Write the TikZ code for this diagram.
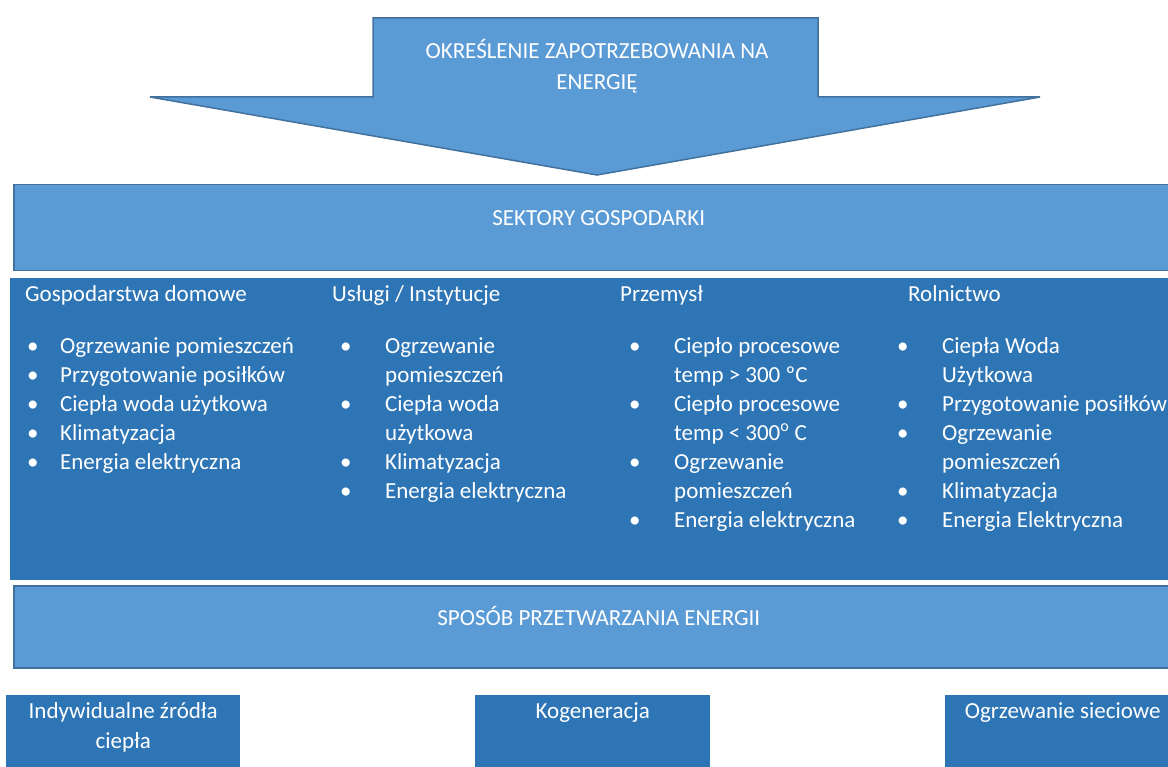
\documentclass[tikz,border=0pt]{standalone}
\usepackage{fontspec}
\setmainfont{Carlito}
\usetikzlibrary{positioning}

\definecolor{lightblue}{HTML}{5B9BD5}
\definecolor{darkblue}{HTML}{2E75B6}
\definecolor{edgeblue}{HTML}{41719C}

\begin{document}
\begin{tikzpicture}[x=1pt,y=-1pt,font=\fontsize{23}{29}\selectfont,text=white]
  \tikzstyle{lightbox}=[draw=edgeblue,line width=1.5pt,fill=lightblue,anchor=north west,inner sep=0pt]
  \tikzstyle{darkbox}=[fill=darkblue,anchor=north west,inner sep=0pt]
  \tikzstyle{title}=[font=\fontsize{23}{31}\selectfont,align=center,inner sep=0pt,text=white]
  \tikzstyle{head}=[anchor=base west,inner sep=0pt]
  \tikzstyle{items}=[anchor=north west,inner sep=0pt]

  \clip (0,0) rectangle (1168,767);

  % arrow on top
  \draw[fill=lightblue,draw=edgeblue,line width=1.5pt] (373,18) -- (818,18) -- (818,97) -- (1040,97)
    -- (597,175) -- (150,97) -- (373,97) -- cycle;
  \node[title] (demand) at (597,66) {OKREŚLENIE ZAPOTRZEBOWANIA NA\\ENERGIĘ};

  % sectors
  \node[lightbox,minimum width=1170,minimum height=86,
        label={[title,yshift=10]center:SEKTORY GOSPODARKI}] (sectors) at (13,184) {};
  \node[darkbox,minimum width=1170,minimum height=302] (sectorlist) at (10,278) {};

  \node[head] (homes)    at (25,302)  {Gospodarstwa domowe};
  \node[head] (services) at (332,302) {Usługi / Instytucje};
  \node[head] (industry) at (620,302) {Przemysł};
  \node[head] (farming)  at (908,302) {Rolnictwo};

  \node[items] (homeslist) at (27,333) {\begin{tabular}{@{}p{33pt}@{}l@{}}
    \textbullet & Ogrzewanie pomieszczeń\\
    \textbullet & Przygotowanie posiłków\\
    \textbullet & Ciepła woda użytkowa\\
    \textbullet & Klimatyzacja\\
    \textbullet & Energia elektryczna
  \end{tabular}};
  \node[items] (serviceslist) at (340,333) {\begin{tabular}{@{}p{45pt}@{}l@{}}
    \textbullet & Ogrzewanie\\
                & pomieszczeń\\
    \textbullet & Ciepła woda\\
                & użytkowa\\
    \textbullet & Klimatyzacja\\
    \textbullet & Energia elektryczna
  \end{tabular}};
  \node[items] (industrylist) at (629,333) {\begin{tabular}{@{}p{45pt}@{}l@{}}
    \textbullet & Ciepło procesowe\\
                & temp > 300 ºC\\
    \textbullet & Ciepło procesowe\\
                & temp < 300\textsuperscript{o} C\\
    \textbullet & Ogrzewanie\\
                & pomieszczeń\\
    \textbullet & Energia elektryczna
  \end{tabular}};
  \node[items] (farminglist) at (897,333) {\begin{tabular}{@{}p{45pt}@{}l@{}}
    \textbullet & Ciepła Woda\\
                & Użytkowa\\
    \textbullet & Przygotowanie posiłków\\
    \textbullet & Ogrzewanie\\
                & pomieszczeń\\
    \textbullet & Klimatyzacja\\
    \textbullet & Energia Elektryczna
  \end{tabular}};

  % conversion
  \node[lightbox,minimum width=1170,minimum height=82,
        label={[title,yshift=11]center:SPOSÓB PRZETWARZANIA ENERGII}] (conversion) at (13,585) {};

  \node[darkbox,minimum width=234,minimum height=100,
        label={[title,anchor=north,yshift=-7,font=\fontsize{23}{30}\selectfont]north:Indywidualne źródła\\ciepła}] (individual) at (6,695) {};
  \node[darkbox,minimum width=235,minimum height=100,
        label={[title,anchor=north,yshift=-7]north:Kogeneracja}] (chp) at (475,695) {};
  \node[darkbox,minimum width=235,minimum height=100,
        label={[title,anchor=north,yshift=-7]north:Ogrzewanie sieciowe}] (district) at (945,695) {};
\end{tikzpicture}
\end{document}
